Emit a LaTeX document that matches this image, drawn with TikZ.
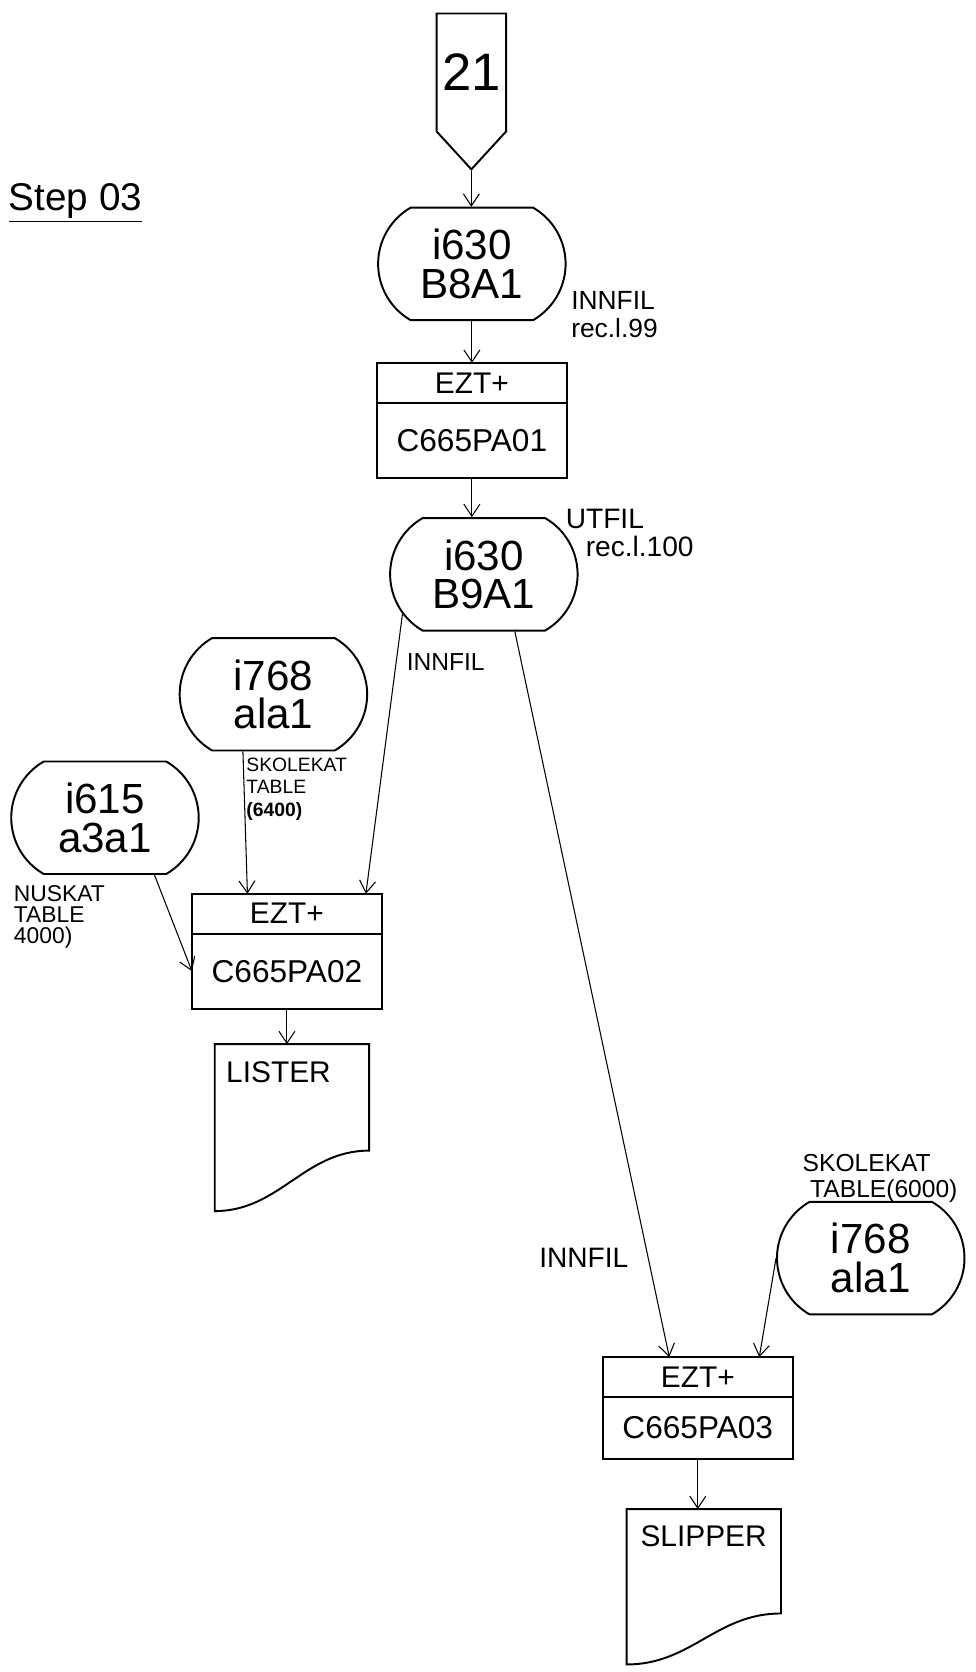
\documentclass[tikz,border=0pt]{standalone}
\usepackage{fontspec}
\setmainfont{Liberation Sans}
\usetikzlibrary{arrows.meta,positioning,shapes.misc,shapes.symbols,calc}

\begin{document}
\begin{tikzpicture}[
  font=\fontsize{15}{16}\selectfont,
  line width=1.1pt,
  store/.style={draw, rounded rectangle, rounded rectangle arc length=120,
                minimum width=3.75cm, minimum height=2.25cm, inner sep=0pt,
                align=center, font=\fontsize{24}{22}\selectfont},
  hdr/.style={draw, minimum width=3.8cm, minimum height=0.8cm, inner sep=0pt,
              outer sep=0pt, font=\fontsize{17}{17}\selectfont},
  prg/.style={draw, minimum width=3.8cm, minimum height=1.5cm, inner sep=0pt,
              outer sep=0pt, font=\fontsize{18}{18}\selectfont},
  doc/.style={minimum width=3.05cm, inner sep=0pt},
  doctxt/.style={anchor=north west, inner sep=0pt, font=\fontsize{17}{17}\selectfont},
  note/.style={anchor=west, align=left, inner sep=0pt},
  flow/.style={-{Straight Barb[length=2.4mm, width=3.2mm]}, line width=0.6pt},
]
\useasboundingbox (0,0) rectangle (19.52,33.45);

% ---------------- connector and title -----------------------------------
\node[draw, signal, signal to=south, signal from=nowhere, signal pointer angle=85,
      minimum width=1.39cm, minimum height=3.0cm, inner sep=0pt,
      font=\fontsize{30}{30}\selectfont] (c21) at (9.43, 32.0) {21};
\node[font=\fontsize{22}{22}\selectfont, inner sep=0pt] (step) at (1.51, 29.39)
  {\underline{Step 03}};

% ---------------- first run ---------------------------------------------
\node[store] (in1) at (9.44, 28.17) {i630\\B8A1};
\node[note] (in1l) at (11.41, 27.15) {INNFIL\\rec.l.99};

\node[hdr] (h01) at (9.44, 25.79) {EZT+};
\node[prg, below=0pt of h01] (p01) {C665PA01};

\node[store] (out1) at (9.68, 21.96) {i630\\B9A1};
\node[note, font=\fontsize{16}{16}\selectfont] (out1l) at (11.30, 22.78)
  {UTFIL\\\hspace*{0.4cm}rec.l.100};

\draw[flow] (c21.south) -- (c21.south |- in1.north);
\draw[flow] (in1.south) -- (in1.south |- h01.north);
\draw[flow] (p01.south) -- (p01.south |- out1.north);

% ---------------- second run --------------------------------------------
\node[store] (sk1) at (5.47, 19.56) {i768\\ala1};
\node[note, font=\fontsize{11}{13}\selectfont] (sk1l) at (4.91, 17.66)
  {SKOLEKAT\\TABLE\\\textbf{(6400)}};
\node[store] (nus) at (2.10, 17.09) {i615\\a3a1};
\node[note, font=\fontsize{13}{12}\selectfont] (nusl) at (0.26, 15.10)
  {NUSKAT\\TABLE\\4000)};

\node[hdr] (h02) at (5.74, 15.17) {EZT+};
\node[prg, below=0pt of h02] (p02) {C665PA02};

\node[doc, minimum height=3.30cm] (lst) at (5.84, 10.89) {};
\draw (lst.north west) -- (lst.north east) -- ($(lst.south east)+(0,1.21)$)
  .. controls ($(lst.south east)+(-1.3,1.21)$) and ($(lst.south west)+(1.3,0)$)
  .. (lst.south west) -- cycle;
\node[doctxt] (lstt) at ($(lst.north west)+(0.21,-0.32)$) {LISTER};

\draw[flow] (out1.206) -- node[pos=0.17, right=2mm, font=\fontsize{14}{14}\selectfont,
  inner sep=0pt] (out1a) {INNFIL} ([xshift=-0.32cm]h02.north east);
\draw[flow] ([xshift=-0.61cm]sk1.south) -- ([xshift=-0.79cm]h02.north);
\draw[flow] ([xshift=0.99cm]nus.south) -- (p02.west);
\draw[flow] (p02.south) -- (p02.south |- lst.north);

% ---------------- third run ---------------------------------------------
\node[store] (sk2) at (17.42, 8.28) {i768\\ala1};
\node[note, font=\fontsize{14}{14.5}\selectfont] (sk2l) at (16.04, 9.87)
  {SKOLEKAT\\\hspace*{0.15cm}TABLE(6000)};
\node[note, font=\fontsize{16}{16}\selectfont] (inl3) at (10.77, 8.28) {INNFIL};

\node[hdr] (h03) at (13.96, 5.90) {EZT+};
\node[prg, minimum height=1.23cm, below=0pt of h03] (p03) {C665PA03};

\node[doc, minimum height=3.07cm] (slp) at (14.08, 1.705) {};
\draw (slp.north west) -- (slp.north east) -- ($(slp.south east)+(0,1.02)$)
  .. controls ($(slp.south east)+(-1.3,1.02)$) and ($(slp.south west)+(1.3,0)$)
  .. (slp.south west) -- cycle;
\node[doctxt] (slpt) at ($(slp.north west)+(0.26,-0.32)$) {SLIPPER};

\draw[flow] ([xshift=0.62cm]out1.south) -- ([xshift=-0.57cm]h03.north);
\draw[flow] (sk2.west) -- ([xshift=1.23cm]h03.north);
\draw[flow] (p03.south) -- (p03.south |- slp.north);

\end{tikzpicture}
\end{document}
